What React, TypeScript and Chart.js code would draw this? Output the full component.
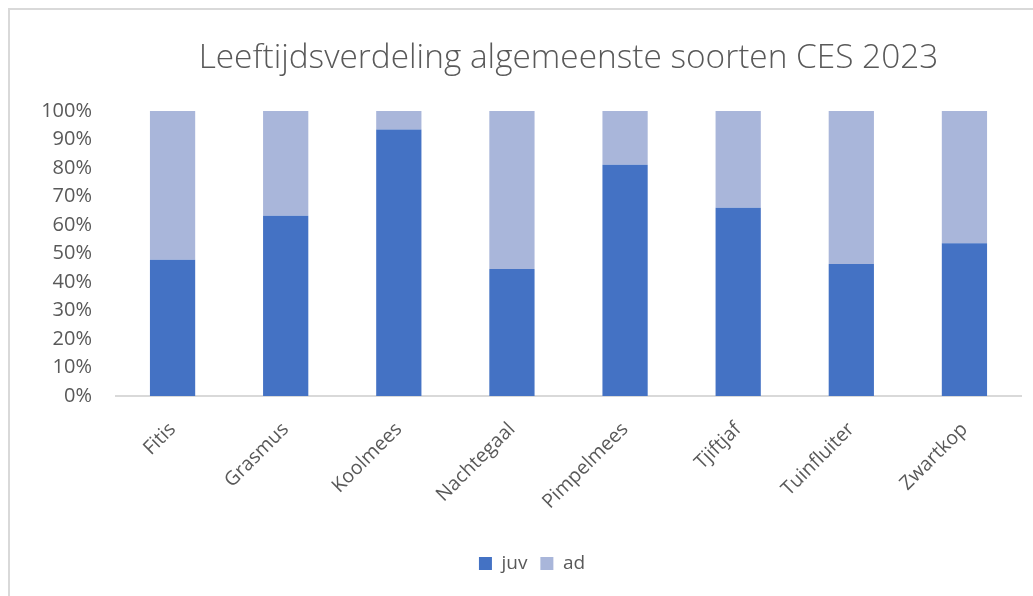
import React, { useEffect, useRef } from "react";
import { Chart, registerables } from "chart.js";

Chart.register(...registerables);

const categories = ["Fitis", "Grasmus", "Koolmees", "Nachtegaal", "Pimpelmees", "Tjiftjaf", "Tuinfluiter", "Zwartkop"];
const juv = [47.8, 63.3, 93.5, 44.6, 81.2, 66.1, 46.3, 53.6];
const ad = [52.2, 36.7, 6.5, 55.4, 18.8, 33.9, 53.7, 46.4];
const seriesNames = ["juv", "ad"];
const yMin = 0;
const yMax = 100;
const yStep = 10;
const titleText = "Leeftijdsverdeling algemeenste soorten CES 2023";

const TEXT = "#595959";
const FONT = "'Open Sans', sans-serif";

export default function App() {
  const ref = useRef<HTMLCanvasElement>(null);

  useEffect(() => {
    const canvas = ref.current;
    if (!canvas) return;
    const chart = new Chart(canvas, {
      type: "bar",
      data: {
        labels: categories,
        datasets: [
          { label: seriesNames[0], data: juv, backgroundColor: "#4472C4", borderWidth: 0 },
          { label: seriesNames[1], data: ad, backgroundColor: "#A9B6DA", borderWidth: 0 },
        ],
      },
      options: {
        responsive: false,
        animation: false,
        devicePixelRatio: 1,
        layout: { padding: { left: 43, right: 12, top: 0, bottom: 13 } },
        datasets: { bar: { barPercentage: 0.4, categoryPercentage: 1 } },
        scales: {
          x: {
            stacked: true,
            grid: { display: false, drawTicks: false },
            border: { display: true, color: "#D9D9D9", width: 2 },
            ticks: {
              color: TEXT,
              font: { family: FONT, size: 19.5 },
              minRotation: 45,
              maxRotation: 45,
              padding: 22,
              autoSkip: false,
            },
            afterFit: (s: any) => { s.height = 145; },
          },
          y: {
            stacked: true,
            min: yMin,
            max: yMax,
            grid: { display: false, drawTicks: false },
            border: { display: false },
            ticks: {
              stepSize: yStep,
              color: TEXT,
              font: { family: FONT, size: 20 },
              padding: 24,
              callback: (v: any) => v + "%",
            },
            afterFit: (s: any) => { s.width = 73; },
          },
        },
        plugins: {
          title: {
            display: true,
            text: titleText,
            color: TEXT,
            fullSize: false,
            font: { family: FONT, size: 33.4, weight: "300" as any },
            padding: { top: 38, bottom: 33 },
          },
          legend: {
            position: "bottom",
            labels: {
              color: TEXT,
              font: { family: FONT, size: 19 },
              boxWidth: 13,
              boxHeight: 13,
              padding: 13,
            },
          },
          tooltip: { enabled: false },
        },
      },
    });
    return () => chart.destroy();
  }, []);

  return (
    <div style={{ position: "fixed", left: 0, top: 0, width: 1033, height: 596, background: "#fff", overflow: "hidden" }}>
      <div
        style={{
          position: "absolute",
          left: 8,
          top: 8,
          width: 1100,
          height: 700,
          borderLeft: "2px solid #D9D9D9",
          borderTop: "2px solid #D9D9D9",
        }}
      />
      <canvas ref={ref} width={1033} height={596} style={{ position: "absolute", left: 0, top: 0, display: "block" }} />
    </div>
  );
}
